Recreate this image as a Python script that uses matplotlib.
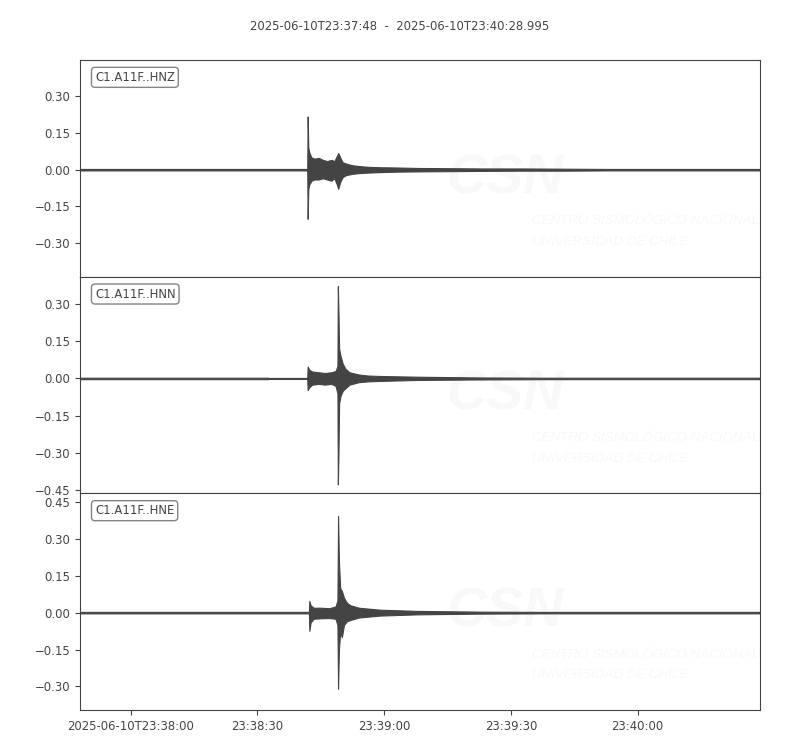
import matplotlib
matplotlib.use("Agg")
import matplotlib.pyplot as plt
from matplotlib.ticker import FuncFormatter, FixedLocator

# ---------------- data ----------------
title = "2025-06-10T23:37:48  -  2025-06-10T23:40:28.995"
duration = 160.995  # seconds after 2025-06-10T23:37:48

channels = ["C1.A11F..HNZ", "C1.A11F..HNN", "C1.A11F..HNE"]

# envelope (seconds after start, upper, lower)
hnz_t = [0, 53.8, 53.9, 54.05, 54.3, 54.8, 55.5, 56.5, 57.5, 58.5, 59.5, 60.2,
         60.8, 61.15, 61.6, 62.2, 63.0, 64.5, 66, 68, 71, 75, 80, 88, 95, 105,
         115, 125, 160.995]
hnz_hi = [0.003, 0.003, 0.217, 0.09, 0.07, 0.05, 0.045, 0.048, 0.04, 0.035, 0.04,
          0.035, 0.055, 0.068, 0.05, 0.03, 0.025, 0.018, 0.015, 0.012, 0.010,
          0.009, 0.007, 0.006, 0.005, 0.005, 0.004, 0.003, 0.003]
hnz_lo = [-0.003, -0.003, -0.200, -0.08, -0.06, -0.045, -0.04, -0.04, -0.035,
          -0.04, -0.045, -0.035, -0.06, -0.078, -0.05, -0.03, -0.022, -0.017,
          -0.014, -0.012, -0.010, -0.008, -0.007, -0.006, -0.005, -0.004,
          -0.004, -0.003, -0.003]

hnn_t = [0, 44.5, 44.6, 53.8, 53.9, 54.3, 55.0, 56.5, 58.0, 59.5, 60.5, 60.95,
         61.05, 61.2, 61.35, 61.7, 62.2, 62.8, 63.8, 66, 68, 71, 80, 95, 110,
         160.995]
hnn_hi = [0.003, 0.003, 0.002, 0.002, 0.048, 0.035, 0.028, 0.025, 0.022, 0.025,
          0.03, 0.05, 0.373, 0.26, 0.12, 0.09, 0.06, 0.04, 0.025, 0.016, 0.012,
          0.010, 0.007, 0.004, 0.003, 0.003]
hnn_lo = [-0.003, -0.003, -0.002, -0.002, -0.047, -0.035, -0.025, -0.022,
          -0.025, -0.022, -0.03, -0.06, -0.428, -0.30, -0.10, -0.07, -0.05,
          -0.04, -0.025, -0.015, -0.012, -0.010, -0.006, -0.004, -0.003, -0.003]

hne_t = [0, 54.2, 54.3, 54.6, 55.3, 57.0, 59.0, 60.5, 60.95, 61.1, 61.3, 61.6,
         62.0, 62.5, 63.2, 64.0, 66, 71, 80, 95, 110, 160.995]
hne_hi = [0.003, 0.003, 0.048, 0.03, 0.02, 0.02, 0.018, 0.025, 0.05, 0.393, 0.21,
          0.10, 0.088, 0.06, 0.04, 0.03, 0.02, 0.012, 0.007, 0.004, 0.003, 0.003]
hne_lo = [-0.003, -0.003, -0.074, -0.04, -0.025, -0.023, -0.022, -0.025, -0.05,
          -0.31, -0.15, -0.08, -0.10, -0.05, -0.035, -0.03, -0.02, -0.012,
          -0.007, -0.004, -0.003, -0.003]

ylims = [(-0.436, 0.447), (-0.464, 0.411), (-0.396, 0.485)]
yticks = [[-0.30, -0.15, 0.0, 0.15, 0.30],
          [-0.45, -0.30, -0.15, 0.0, 0.15, 0.30],
          [-0.30, -0.15, 0.0, 0.15, 0.30, 0.45]]

xtick_pos = [12, 42, 72, 102, 132]
xtick_labels = ["2025-06-10T23:38:00", "23:38:30", "23:39:00", "23:39:30",
                "23:40:00"]

# ---------------- plot ----------------
GREY = "#444444"
WM = "#f8f8f8"
FS = 8.4
plt.rcParams["font.family"] = ["DejaVu Sans"]

fig = plt.figure(figsize=(8, 7.5), dpi=100)
fig.subplots_adjust(left=0.1, right=0.95, bottom=0.0533, top=0.92, hspace=0)
axes = fig.subplots(3, 1, sharex=True)

traces = [(hnz_t, hnz_hi, hnz_lo), (hnn_t, hnn_hi, hnn_lo), (hne_t, hne_hi, hne_lo)]

fmt = FuncFormatter(lambda v, p: ("%.2f" % v).replace("-", "\u2212"))

for i, ax in enumerate(axes):
    t, hi, lo = traces[i]
    # faint watermark
    ax.text(0.625, 0.45, "CSN", transform=ax.transAxes, fontsize=40,
            fontweight="bold", fontstyle="italic", color=WM,
            family="Liberation Sans", ha="center", va="center", zorder=0,
            clip_on=True)
    ax.text(0.665, 0.255, "CENTRO SISMOLÓGICO NACIONAL", transform=ax.transAxes,
            fontsize=9.6, fontstyle="italic", color=WM, family="Liberation Sans",
            ha="left", va="center", zorder=0, clip_on=True)
    ax.text(0.665, 0.16, "UNIVERSIDAD DE CHILE", transform=ax.transAxes,
            fontsize=9.6, fontstyle="italic", color=WM, family="Liberation Sans",
            ha="left", va="center", zorder=0, clip_on=True)

    ax.fill_between(t, lo, hi, color=GREY, edgecolor=GREY, linewidth=0.8,
                    zorder=2)
    ax.set_xlim(0, duration)
    ax.set_ylim(*ylims[i])
    ax.yaxis.set_major_locator(FixedLocator(yticks[i]))
    ax.yaxis.set_major_formatter(fmt)
    ax.tick_params(axis="both", colors=GREY, labelsize=FS, labelcolor=GREY)
    for s in ax.spines.values():
        s.set_color(GREY)
    ax.text(0.022, 0.95, channels[i], transform=ax.transAxes, fontsize=FS,
            color=GREY, ha="left", va="top", zorder=5,
            bbox=dict(boxstyle="round,pad=0.3", fc="white", ec="#777777",
                      alpha=0.9))
    if i < 2:
        ax.tick_params(axis="x", bottom=False, labelbottom=False)

axes[-1].xaxis.set_major_locator(FixedLocator(xtick_pos))
axes[-1].set_xticklabels(xtick_labels)

fig.suptitle(title, fontsize=FS, color=GREY, y=0.973)

fig.savefig("out.png", dpi=100)
